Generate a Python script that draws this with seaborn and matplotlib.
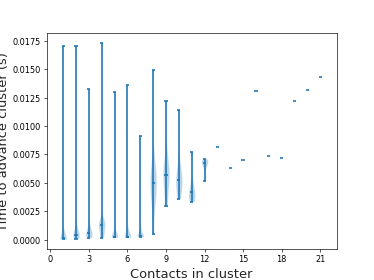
import numpy as np
import matplotlib
matplotlib.use("Agg")
import matplotlib.pyplot as plt
import seaborn as sns

# clusters with several samples -> violins
multi_sizes = [1, 2, 3, 4, 5, 6, 7, 8, 9, 10, 11, 12]
multi_times = [
    [0.00003, 0.00006, 0.00008, 0.0001, 0.0001, 0.00011, 0.00013, 0.00018, 0.00025, 0.0004, 0.0170],
    [0.0001, 0.00015, 0.0002, 0.0003, 0.00035, 0.0004, 0.00045, 0.0006, 0.0008, 0.0011, 0.0170],
    [0.00015, 0.0002, 0.0003, 0.0004, 0.0005, 0.00056, 0.0006, 0.0008, 0.001, 0.0013, 0.01326],
    [0.00015, 0.0003, 0.0005, 0.0008, 0.0011, 0.0013, 0.0014, 0.0015, 0.0016, 0.0018, 0.0173],
    [0.0002, 0.0002, 0.00022, 0.00024, 0.00025, 0.00026, 0.0003, 0.0004, 0.0006, 0.0009, 0.01303],
    [0.0002, 0.0002, 0.00022, 0.00024, 0.00025, 0.00026, 0.0003, 0.0004, 0.0006, 0.0009, 0.01356],
    [0.00025, 0.00028, 0.0003, 0.00032, 0.00034, 0.00036, 0.0004, 0.0005, 0.0007, 0.001, 0.00912],
    [0.00047, 0.0025, 0.0033, 0.0038, 0.0042, 0.0046, 0.0050, 0.0053, 0.0056, 0.006, 0.0065, 0.0072, 0.0149],
    [0.00294, 0.0036, 0.0042, 0.0047, 0.0051, 0.0055, 0.00571, 0.006, 0.0063, 0.0067, 0.0072, 0.0080, 0.01218],
    [0.00362, 0.0040, 0.0044, 0.0047, 0.0050, 0.00527, 0.0055, 0.0058, 0.0062, 0.0068, 0.01144],
    [0.00335, 0.0036, 0.0039, 0.00421, 0.0045, 0.0052, 0.00774],
    [0.00512, 0.0065, 0.00677, 0.0069, 0.00712],
]
bw = [0.09, 0.09, 0.09, 0.09, 0.09, 0.09, 0.09, 0.3, 0.3, 0.3, 0.3, 0.4]

# clusters seen only once
single_sizes = [13, 14, 15, 16, 17, 18, 19, 20, 21]
single_times = [0.00812, 0.00629, 0.00697, 0.01309, 0.00739, 0.00715, 0.01218, 0.01315, 0.0143]

sns.set_style("ticks", {"axes.edgecolor": "black", "axes.linewidth": 0.8,
                        "xtick.color": "black", "ytick.color": "black"})
plt.rcParams["font.family"] = ["DejaVu Sans"]

fig, ax = plt.subplots(figsize=(6.4, 4.8), dpi=374 / 6.4)

col = "#1f77b4"
lw = 2.0
for pos, vals, b in zip(multi_sizes, multi_times, bw):
    parts = ax.violinplot([vals], positions=[pos], widths=0.5,
                          showmedians=True, bw_method=b)
    for body in parts["bodies"]:
        body.set_facecolor(col)
        body.set_alpha(0.3)
    for key in ("cmins", "cmaxes", "cbars", "cmedians"):
        parts[key].set_color(col)
        parts[key].set_linewidth(lw)

ax.hlines(single_times, np.array(single_sizes) - 0.125, np.array(single_sizes) + 0.125,
          colors=col, linewidth=lw)

ax.set_xlim(-0.275, 22.275)
ax.set_xticks(range(0, 22, 3))
ax.set_xlabel("Contacts in cluster", fontsize=16)
ax.set_ylabel("Time to advance cluster (s)", fontsize=16)

fig.savefig("out.png", dpi=374 / 6.4)
